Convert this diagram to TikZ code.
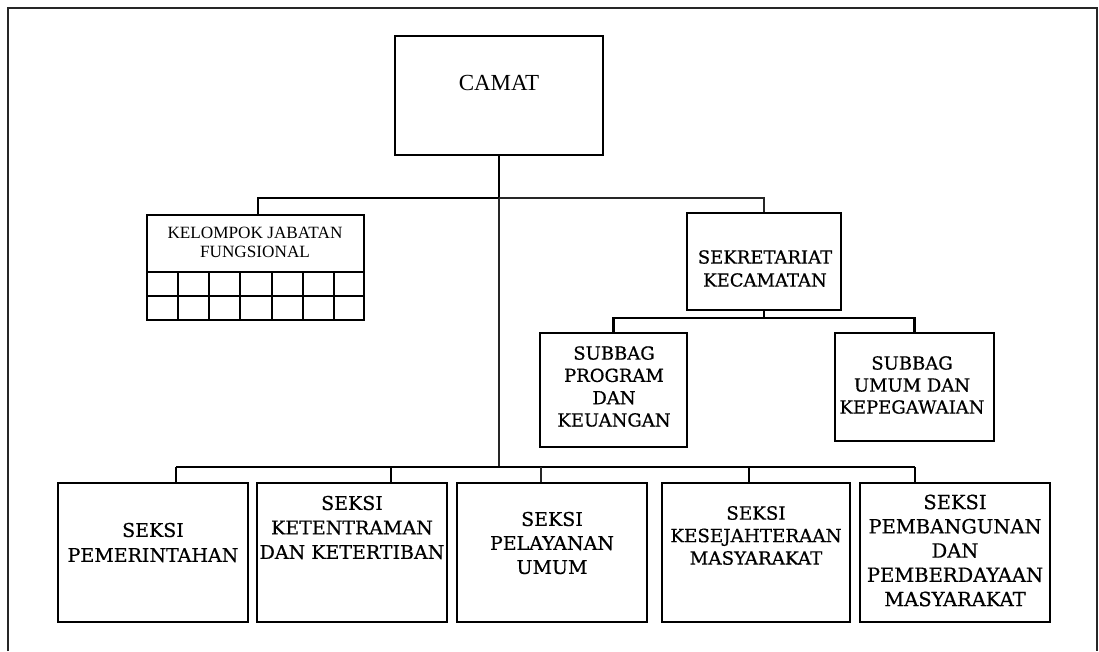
\documentclass[tikz,border=0pt]{standalone}
\usepackage{fontspec}
\setmainfont[FakeBold=0.6]{DejaVu Serif}
\newfontfamily\tnr{Liberation Serif}
\usetikzlibrary{fit}
\begin{document}
\begin{tikzpicture}[x=1pt,y=-1pt,
  bx/.style={draw, line width=2.2pt, inner sep=0pt},
  thk/.style={line width=2.2pt},
  thn/.style={line width=1.2pt, black!85},
  frm/.style={line width=1.6pt, black!85},
  lbl/.style={align=center, inner sep=0pt}]
\useasboundingbox (0,0) rectangle (1099,651);
% outer frame
\draw[frm] (8,651) -- (8,8) -- (1097,8) -- (1097,651);

% boxes
\node[bx, fit={(395,36) (603,155)}] (camat) {};
\node[bx, fit={(147,215) (364,320)}] (kjf) {};
\node[bx, fit={(687,213) (841,310)}] (sek) {};
\node[bx, fit={(540,333) (687,447)}] (prog) {};
\node[bx, fit={(835,333) (994,441)}] (umum) {};
\node[bx, fit={(58,483) (248,622)}] (s1) {};
\node[bx, fit={(257,483) (447,622)}] (s2) {};
\node[bx, fit={(457,483) (647,622)}] (s3) {};
\node[bx, fit={(662,483) (850,622)}] (s4) {};
\node[bx, fit={(860,483) (1050,622)}] (s5) {};

% grid of kelompok jabatan fungsional
\draw[thk] (147,272) -- (364,272);
\draw[thk] (147,296) -- (364,296);
\foreach \x in {178,209,240,272,303,334} \draw[thk] (\x,272) -- (\x,320);

% labels
\node[lbl, font=\tnr\fontsize{23}{26}\selectfont] (camat-t) at (499,83) {CAMAT};
\node[lbl, font=\tnr\fontsize{17.2}{19}\selectfont] (kjf-t) at (255,242.5) {KELOMPOK JABATAN\\FUNGSIONAL};
\node[lbl, font=\fontsize{18}{23}\selectfont] (sek-t) at (765,268.5) {SEKRETARIAT\\KECAMATAN};
\node[lbl, font=\fontsize{18}{22.3}\selectfont] (prog-t) at (614,386.5) {SUBBAG\\PROGRAM\\DAN\\KEUANGAN};
\node[lbl, font=\fontsize{18}{22}\selectfont] (umum-t) at (912,385) {SUBBAG\\UMUM DAN\\KEPEGAWAIAN};
\node[lbl, font=\fontsize{19}{25}\selectfont] (s1-t) at (153,542.5) {SEKSI\\PEMERINTAHAN};
\node[lbl, font=\fontsize{19}{24.5}\selectfont] (s2-t) at (352,527.5) {SEKSI\\KETENTRAMAN\\DAN KETERTIBAN};
\node[lbl, font=\fontsize{19}{24}\selectfont] (s3-t) at (552,543) {SEKSI\\PELAYANAN\\UMUM};
\node[lbl, font=\fontsize{18.3}{22.5}\selectfont] (s4-t) at (756,535.5) {SEKSI\\KESEJAHTERAAN\\MASYARAKAT};
\node[lbl, font=\fontsize{19.5}{24.25}\selectfont] (s5-t) at (955,550.5) {SEKSI\\PEMBANGUNAN\\DAN\\PEMBERDAYAAN\\MASYARAKAT};

% junction coordinates
\coordinate (j1) at (499,198);
\coordinate (jk) at (258,198);
\coordinate (jb) at (499,467);
\coordinate (b1) at (176,467);
\coordinate (b2) at (391,467);
\coordinate (b3) at (541,467);
\coordinate (b4) at (749,467);
\coordinate (b5) at (915,467);
\coordinate (js) at (764,318);

% connectors
\draw[thk] (camat.south) -- (j1);
\draw[thk] (j1) -- (jk) -- (kjf.north -| jk);
\draw[thn] (j1) -| (sek.north);
\draw[thn] (j1) -- (jb);
\draw[thk] (b1) -- (b5);
\draw[thk] (b1) -- (s1.north -| b1);
\draw[thk] (b2) -- (s2.north -| b2);
\draw[thn] (b3) -- (s3.north -| b3);
\draw[thk] (b4) -- (s4.north -| b4);
\draw[thk] (b5) -- (s5.north -| b5);
\draw[thk] (sek.south) -- (js);
\draw[thk] (js) -| (prog.north);
\draw[thk] (js) -| (umum.north);
\end{tikzpicture}
\end{document}
